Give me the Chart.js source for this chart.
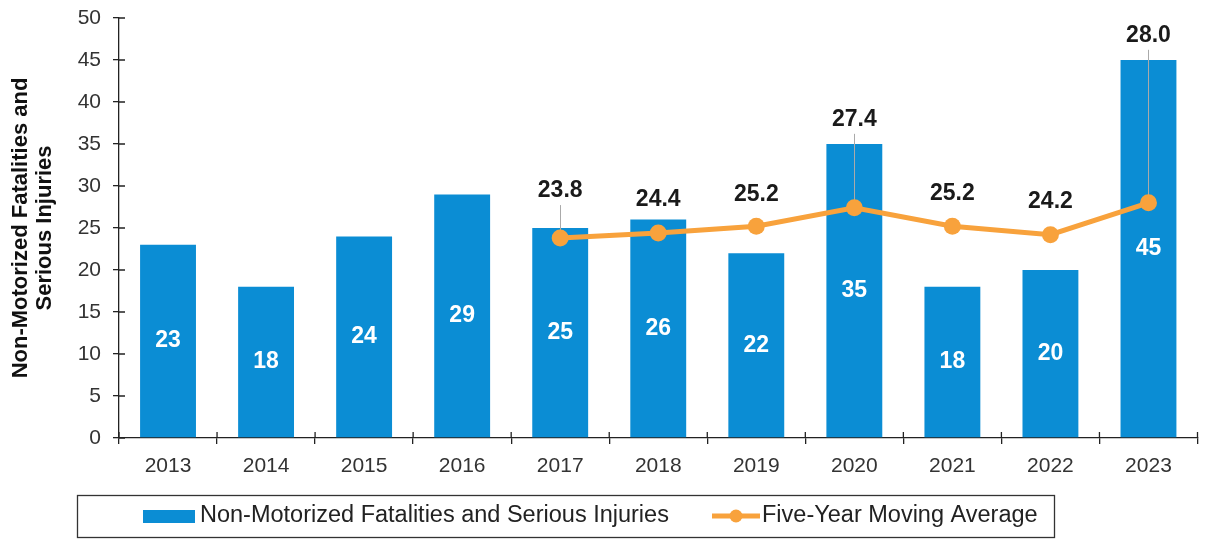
<!DOCTYPE html>
<html>
<head>
<meta charset="utf-8">
<script src="https://cdn.jsdelivr.net/npm/chart.js@4.4.1/dist/chart.umd.min.js"></script>
<style>
  html, body { margin: 0; padding: 0; background: #fff; }
</style>
</head>
<body>
<canvas id="myChart" width="1206" height="540"></canvas>
<script>
const years = ['2013', '2014', '2015', '2016', '2017', '2018', '2019', '2020', '2021', '2022', '2023'];
const injuries = [23, 18, 24, 29, 25, 26, 22, 35, 18, 20, 45];
const movingAvg = [null, null, null, null, 23.8, 24.4, 25.2, 27.4, 25.2, 24.2, 28.0];
const yMin = 0;
const yMax = 50;
const yStep = 5;
const barLabel = 'Non-Motorized Fatalities and Serious Injuries';
const lineLabel = 'Five-Year Moving Average';

const barColor = '#0b8dd4';
const lineColor = '#f8a23c';
const axisColor = '#222';
const fontFamily = "'Liberation Sans', Arial, sans-serif";

// how far each average label sits above its point (px), leader line when moved far
const avgLabelLift = [0, 0, 0, 0, 47, 33, 32, 88, 33, 33, 167];

const innerTicks = {
  id: 'innerTicks',
  afterDraw(chart) {
    const ctx = chart.ctx;
    const x = chart.scales.x;
    const y = chart.scales.y;
    ctx.save();
    ctx.strokeStyle = axisColor;
    ctx.lineWidth = 1.3;
    ctx.beginPath();
    const n = years.length;
    const w = (x.right - x.left) / n;
    for (let i = 0; i <= n; i++) {
      const px = x.left + i * w;
      ctx.moveTo(px, x.top);
      ctx.lineTo(px, x.top - 6);
    }
    for (let v = yMin; v <= yMax; v += yStep) {
      const py = y.getPixelForValue(v);
      ctx.moveTo(y.right, py);
      ctx.lineTo(y.right + 6, py);
    }
    ctx.stroke();
    ctx.restore();
  }
};

const valueLabels = {
  id: 'valueLabels',
  beforeDatasetDraw(chart, args) {
    if (args.index !== 1) return;
    const ctx = chart.ctx;
    const meta = chart.getDatasetMeta(1);
    ctx.save();
    ctx.strokeStyle = '#aaaaaa';
    ctx.lineWidth = 1;
    meta.data.forEach((pt, i) => {
      if (movingAvg[i] === null || avgLabelLift[i] < 40) return;
      ctx.beginPath();
      ctx.moveTo(Math.round(pt.x) + 0.5, pt.y - avgLabelLift[i] + 14);
      ctx.lineTo(Math.round(pt.x) + 0.5, pt.y);
      ctx.stroke();
    });
    ctx.restore();
  },
  afterDatasetsDraw(chart) {
    const ctx = chart.ctx;
    ctx.save();
    ctx.font = 'bold 23px ' + fontFamily;
    ctx.textAlign = 'center';
    ctx.textBaseline = 'middle';

    ctx.fillStyle = '#ffffff';
    chart.getDatasetMeta(0).data.forEach((bar, i) => {
      ctx.fillText(injuries[i], bar.x, (bar.y + bar.base) / 2);
    });

    ctx.fillStyle = '#1a1a1a';
    chart.getDatasetMeta(1).data.forEach((pt, i) => {
      if (movingAvg[i] === null) return;
      ctx.fillText(movingAvg[i].toFixed(1), pt.x, pt.y - avgLabelLift[i]);
    });
    ctx.restore();
  }
};

const boxLegend = {
  id: 'boxLegend',
  afterDraw(chart) {
    const ctx = chart.ctx;
    const top = 495;
    const mid = top + 21;
    ctx.save();
    ctx.strokeStyle = '#333';
    ctx.lineWidth = 1.3;
    ctx.strokeRect(77.5, top + 0.5, 977, 42);

    ctx.font = '23.5px ' + fontFamily;
    ctx.textBaseline = 'middle';
    ctx.textAlign = 'left';

    ctx.fillStyle = barColor;
    ctx.fillRect(143, mid - 6, 52, 13);
    ctx.fillStyle = '#222';
    ctx.fillText(barLabel, 200, mid);

    ctx.strokeStyle = lineColor;
    ctx.lineWidth = 5;
    ctx.beginPath();
    ctx.moveTo(712, mid);
    ctx.lineTo(760, mid);
    ctx.stroke();
    ctx.fillStyle = lineColor;
    ctx.beginPath();
    ctx.arc(736, mid, 6.5, 0, Math.PI * 2);
    ctx.fill();
    ctx.fillStyle = '#222';
    ctx.fillText(lineLabel, 762, mid);
    ctx.restore();
  }
};

let chartCanvas = document.getElementById('myChart');

new Chart(chartCanvas, {
  data: {
    labels: years,
    datasets: [
      {
        type: 'bar',
        label: barLabel,
        data: injuries,
        backgroundColor: barColor,
        barPercentage: 0.57,
        categoryPercentage: 1.0,
        order: 1
      },
      {
        type: 'line',
        label: lineLabel,
        data: movingAvg,
        borderColor: lineColor,
        backgroundColor: lineColor,
        borderWidth: 5,
        pointRadius: 8.5,
        pointBorderWidth: 0,
        pointBackgroundColor: lineColor,
        tension: 0,
        order: 0
      }
    ]
  },
  options: {
    responsive: false,
    animation: false,
    devicePixelRatio: 1,
    layout: {
      padding: { top: 18, right: 5, bottom: 62, left: 0 }
    },
    plugins: {
      legend: { display: false },
      tooltip: { enabled: false }
    },
    scales: {
      x: {
        afterFit(scale) { scale.height = 40; },
        grid: {
          offset: true,
          drawOnChartArea: false,
          drawTicks: true,
          tickLength: 6,
          color: axisColor,
          lineWidth: 1.3
        },
        border: { display: true, color: axisColor, width: 1.3 },
        ticks: {
          color: '#333',
          padding: 10,
          font: { family: fontFamily, size: 21 }
        }
      },
      y: {
        min: yMin,
        max: yMax,
        afterFit(scale) {
          scale.width = 119;
          scale.paddingTop = 0;
          scale.paddingBottom = 0;
        },
        grid: {
          drawOnChartArea: false,
          drawTicks: true,
          tickLength: 6,
          color: axisColor,
          lineWidth: 1.3
        },
        border: { display: true, color: axisColor, width: 1.3 },
        ticks: {
          stepSize: yStep,
          color: '#333',
          padding: 12,
          font: { family: fontFamily, size: 21 }
        },
        title: {
          display: true,
          text: ['Non-Motorized Fatalities and', 'Serious Injuries'],
          color: '#111',
          padding: { top: 9, bottom: 0 },
          font: { family: fontFamily, size: 22, weight: 'bold', lineHeight: 1.1 }
        }
      }
    }
  },
  plugins: [innerTicks, valueLabels, boxLegend]
});
</script>
</body>
</html>
